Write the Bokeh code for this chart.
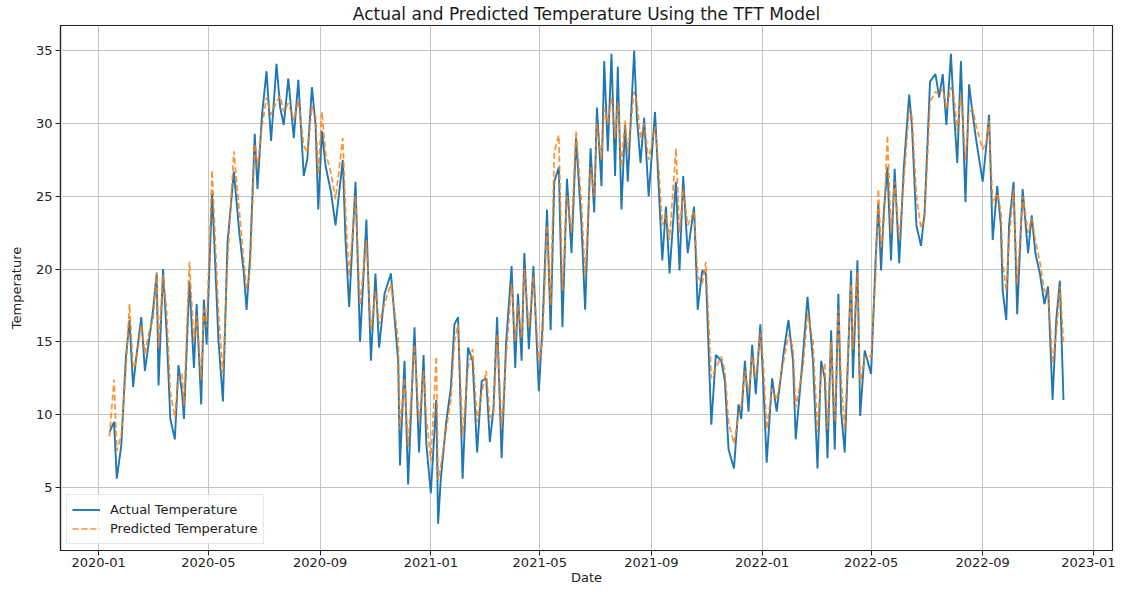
from datetime import datetime, timedelta
from bokeh.plotting import figure
from bokeh.models import (Range1d, FixedTicker, ColumnDataSource, Legend, LegendItem,
                          DatetimeTickFormatter)
from bokeh.embed import file_html
from bokeh.resources import INLINE

# ---- data ----
days = [12, 17, 20, 25, 30, 34, 38, 41, 47, 51, 56, 60, 64, 66, 71, 75, 79, 84, 88, 92, 94,
        100, 105, 108, 113, 116, 119, 125, 127, 132, 137, 142, 149, 155, 160, 163, 167, 172,
        175, 180, 185, 190, 196, 200, 204, 209, 215, 220, 226, 230, 235, 239, 242, 246, 250,
        256, 261, 269, 272, 276, 283, 288, 295, 300, 305, 309, 315, 322, 330, 332, 337, 341,
        348, 353, 358, 361, 366, 372, 374, 377, 383, 388, 392, 396, 401, 407, 412, 417, 422,
        427, 431, 435, 439, 444, 449, 455, 459, 462, 466, 469, 474, 479, 485, 489, 494, 498,
        502, 507, 511, 516, 521, 526, 532, 536, 542, 546, 549, 554, 557, 561, 565, 569, 572,
        576, 580, 583, 590, 593, 597, 601, 606, 613, 617, 621, 625, 629, 636, 640, 644, 649,
        656, 660, 665, 669, 675, 680, 686, 690, 694, 700, 705, 708, 712, 716, 720, 724, 729,
        732, 736, 742, 747, 755, 760, 765, 768, 776, 781, 787, 792, 796, 800, 803, 807, 811,
        815, 818, 822, 829, 831, 836, 839, 844, 851, 856, 859, 862, 865, 869, 873, 877, 882,
        887, 893, 896, 901, 906, 910, 916, 922, 926, 930, 934, 939, 942, 946, 950, 955, 959,
        963, 967, 974, 978, 981, 985, 990, 994, 996, 1000, 1003, 1008, 1012, 1018, 1024, 1028,
        1032, 1037, 1042, 1046, 1051, 1055, 1059, 1063]

actual = [8.8, 9.5, 5.6, 7.9, 13.9, 16.5, 11.9, 13.7, 16.7, 13.0, 15.3, 17.2, 19.7, 12.0, 20.0,
          15.5, 9.7, 8.3, 13.4, 11.4, 9.7, 19.2, 13.2, 17.6, 10.7, 17.9, 14.8, 25.2, 22.5, 15.1,
          10.9, 21.8, 26.7, 22.5, 19.7, 17.2, 21.0, 29.3, 25.5, 30.6, 33.6, 28.8, 34.1, 31.1,
          29.9, 33.1, 29.0, 33.0, 26.4, 27.6, 32.5, 29.9, 24.1, 29.5, 27.1, 25.3, 23.0, 27.5,
          22.0, 17.4, 26.0, 15.0, 23.4, 13.7, 19.7, 14.6, 18.3, 19.7, 13.7, 6.5, 13.7, 5.2,
          16.0, 7.4, 14.1, 8.0, 4.6, 11.0, 2.5, 5.6, 9.5, 11.8, 16.2, 16.7, 5.6, 14.6, 13.7,
          7.4, 12.3, 12.5, 8.1, 10.4, 16.7, 7.0, 15.0, 20.2, 13.2, 18.3, 13.7, 21.1, 14.5,
          20.2, 11.6, 16.0, 24.1, 15.8, 26.0, 27.0, 16.0, 26.2, 21.1, 29.0, 23.0, 17.2, 28.3,
          23.9, 31.1, 25.7, 34.3, 28.1, 34.8, 26.4, 33.9, 24.1, 29.9, 26.0, 35.0, 30.4, 27.3,
          30.4, 25.0, 30.8, 25.7, 20.6, 24.3, 19.7, 26.0, 19.9, 26.4, 21.1, 24.3, 17.2, 19.9,
          19.7, 9.3, 14.1, 13.7, 12.3, 7.6, 6.3, 10.7, 9.7, 13.7, 10.2, 14.8, 11.4, 16.2, 12.5,
          6.7, 12.5, 10.2, 14.4, 16.5, 13.7, 8.3, 14.1, 18.1, 13.7, 6.3, 13.7, 12.5, 7.0, 15.8,
          7.6, 18.3, 10.2, 7.4, 19.9, 12.5, 20.6, 9.9, 14.4, 12.8, 20.6, 24.5, 19.9, 23.9,
          27.0, 20.6, 26.9, 20.4, 26.9, 32.0, 29.9, 23.0, 21.6, 23.9, 32.9, 33.4, 31.8, 33.4,
          29.9, 34.8, 31.1, 27.3, 34.3, 24.6, 32.7, 30.6, 28.8, 26.0, 28.5, 30.6, 22.0, 25.7,
          23.0, 18.5, 16.5, 23.0, 26.0, 16.9, 25.5, 21.1, 23.7, 21.1, 19.7, 17.6, 18.8, 11.0,
          16.5, 19.2, 11.0]

predicted = [8.5, 12.4, 7.5, 8.6, 13.0, 17.6, 13.2, 13.5, 16.2, 14.2, 15.8, 16.5, 19.8, 14.5,
             19.6, 17.0, 11.5, 9.8, 12.6, 12.8, 10.6, 20.5, 15.0, 16.8, 12.4, 17.2, 16.0, 26.8,
             24.0, 17.0, 12.8, 20.5, 28.1, 24.0, 20.5, 18.6, 20.0, 28.6, 27.0, 29.8, 31.8, 30.6,
             31.5, 31.9, 30.8, 31.4, 30.2, 31.6, 28.5, 28.0, 31.2, 30.5, 26.5, 30.8, 28.0, 26.6,
             24.8, 29.0, 24.0, 19.5, 25.0, 17.5, 22.0, 15.8, 18.5, 16.2, 17.6, 19.0, 15.2, 9.0,
             12.5, 7.8, 14.8, 9.5, 13.0, 9.8, 6.8, 14.0, 5.5, 6.5, 9.0, 11.0, 15.0, 16.2, 8.5,
             13.2, 14.5, 9.5, 11.5, 13.0, 9.8, 10.0, 15.5, 9.0, 14.0, 19.0, 15.0, 17.5, 15.2,
             20.0, 16.0, 19.5, 13.5, 15.0, 23.0, 17.5, 28.1, 29.2, 18.5, 25.0, 22.5, 29.5, 24.5,
             19.5, 27.0, 25.0, 30.0, 27.5, 31.0, 30.0, 31.8, 29.0, 31.5, 27.0, 30.2, 28.0, 32.2,
             31.5, 29.0, 30.0, 27.5, 29.8, 27.0, 23.0, 23.8, 22.0, 28.3, 22.5, 25.5, 23.0, 24.0,
             19.5, 19.0, 20.5, 12.5, 13.2, 14.0, 13.0, 9.5, 8.0, 10.0, 10.6, 13.0, 11.5, 14.0,
             12.5, 15.6, 13.8, 9.0, 11.8, 11.0, 13.8, 15.5, 14.6, 10.5, 13.2, 17.0, 15.0, 8.8,
             12.8, 13.5, 9.0, 15.0, 9.5, 17.2, 12.5, 9.0, 19.0, 14.5, 19.8, 12.0, 14.0, 14.0,
             19.5, 25.5, 21.5, 23.0, 29.2, 22.5, 26.0, 22.0, 26.0, 31.0, 30.5, 25.0, 22.8, 23.5,
             31.5, 32.2, 32.0, 32.4, 31.0, 32.5, 32.0, 29.5, 32.0, 27.5, 30.8, 31.0, 29.8, 28.2,
             28.8, 30.2, 24.5, 25.2, 24.0, 20.5, 18.5, 22.0, 25.5, 19.0, 25.0, 22.5, 23.5, 22.0,
             20.5, 18.5, 18.5, 13.5, 15.5, 18.8, 15.0]

y_ticks = [5, 10, 15, 20, 25, 30, 35]
x_tick_months = [(2020, 1), (2020, 5), (2020, 9), (2021, 1), (2021, 5), (2021, 9),
                 (2022, 1), (2022, 5), (2022, 9), (2023, 1)]
x_tick_labels = ["2020-01", "2020-05", "2020-09", "2021-01", "2021-05", "2021-09",
                 "2022-01", "2022-05", "2022-09", "2023-01"]

# ---- build ----
base = datetime(2020, 1, 1)
dates = [base + timedelta(days=d) for d in days]
src = ColumnDataSource(dict(date=dates, actual=actual, predicted=predicted))

FONT = "DejaVu Sans"
epoch = datetime(1970, 1, 1)
def ms(dt):
    return (dt - epoch).total_seconds() * 1000.0

x_ticks = [ms(datetime(y, m, 1)) for (y, m) in x_tick_months]
x_start, x_end = datetime(2019, 11, 20), datetime(2023, 1, 22)

p = figure(width=1115, height=587, x_axis_type="datetime",
           output_backend="svg", toolbar_location=None,
           x_range=Range1d(x_start, x_end),
           y_range=Range1d(0.66, 36.74),
           min_border_left=60, min_border_right=3, min_border_top=0, min_border_bottom=0,
           title="Actual and Predicted Temperature Using the TFT Model")

p.title.align = "center"
p.title.text_font = FONT
p.title.text_font_size = "17px"
p.title.text_font_style = "normal"
p.title.text_color = "#1a1a1a"
p.title.standoff = 3

p.background_fill_color = "white"
p.border_fill_color = "white"
p.outline_line_color = "#222222"
p.outline_line_width = 1.2

for ax in (p.xaxis, p.yaxis):
    ax.axis_line_color = "#222222"
    ax.axis_line_width = 1.2
    ax.major_tick_line_color = "#222222"
    ax.major_tick_out = 5
    ax.major_tick_in = 0
    ax.minor_tick_line_color = None
    ax.major_label_text_font = FONT
    ax.major_label_text_font_size = "13px"
    ax.major_label_text_color = "#222222"
    ax.axis_label_text_font = FONT
    ax.axis_label_text_font_size = "13px"
    ax.axis_label_text_font_style = "normal"
    ax.axis_label_text_color = "#222222"

p.xaxis.ticker = FixedTicker(ticks=x_ticks)
p.xaxis.formatter = DatetimeTickFormatter(days="%Y-%m", months="%Y-%m", years="%Y-%m")
p.xaxis.major_label_overrides = {t: lab for t, lab in zip(x_ticks, x_tick_labels)}
p.xaxis.major_label_standoff = 2
p.xaxis.axis_label = "Date"
p.xaxis.axis_label_standoff = 0

p.yaxis.ticker = FixedTicker(ticks=y_ticks)
p.yaxis.major_label_standoff = 3
p.yaxis.axis_label = "Temperature"
p.yaxis.axis_label_standoff = 9

p.xgrid.ticker = FixedTicker(ticks=x_ticks)
p.ygrid.ticker = FixedTicker(ticks=y_ticks)
for g in (p.xgrid, p.ygrid):
    g.grid_line_color = "#c4c4c4"
    g.grid_line_width = 1

r1 = p.line("date", "actual", source=src, line_color="#1f77b4", line_width=1.9)
r2 = p.line("date", "predicted", source=src, line_color="#ff7f0e", line_width=1.7,
            line_dash="6 3", line_alpha=0.85)

legend = Legend(items=[LegendItem(label="Actual Temperature", renderers=[r1]),
                       LegendItem(label="Predicted Temperature", renderers=[r2])],
                location="bottom_left")
legend.label_text_font = FONT
legend.label_text_font_size = "13px"
legend.label_text_color = "#222222"
legend.glyph_width = 28
legend.glyph_height = 19
legend.label_height = 19
legend.label_standoff = 10
legend.spacing = 0
legend.padding = 5
legend.margin = 6
legend.border_line_color = "#d0d0d0"
legend.background_fill_alpha = 0.8
p.add_layout(legend)

open("out.html", "w").write(file_html(p, INLINE))
